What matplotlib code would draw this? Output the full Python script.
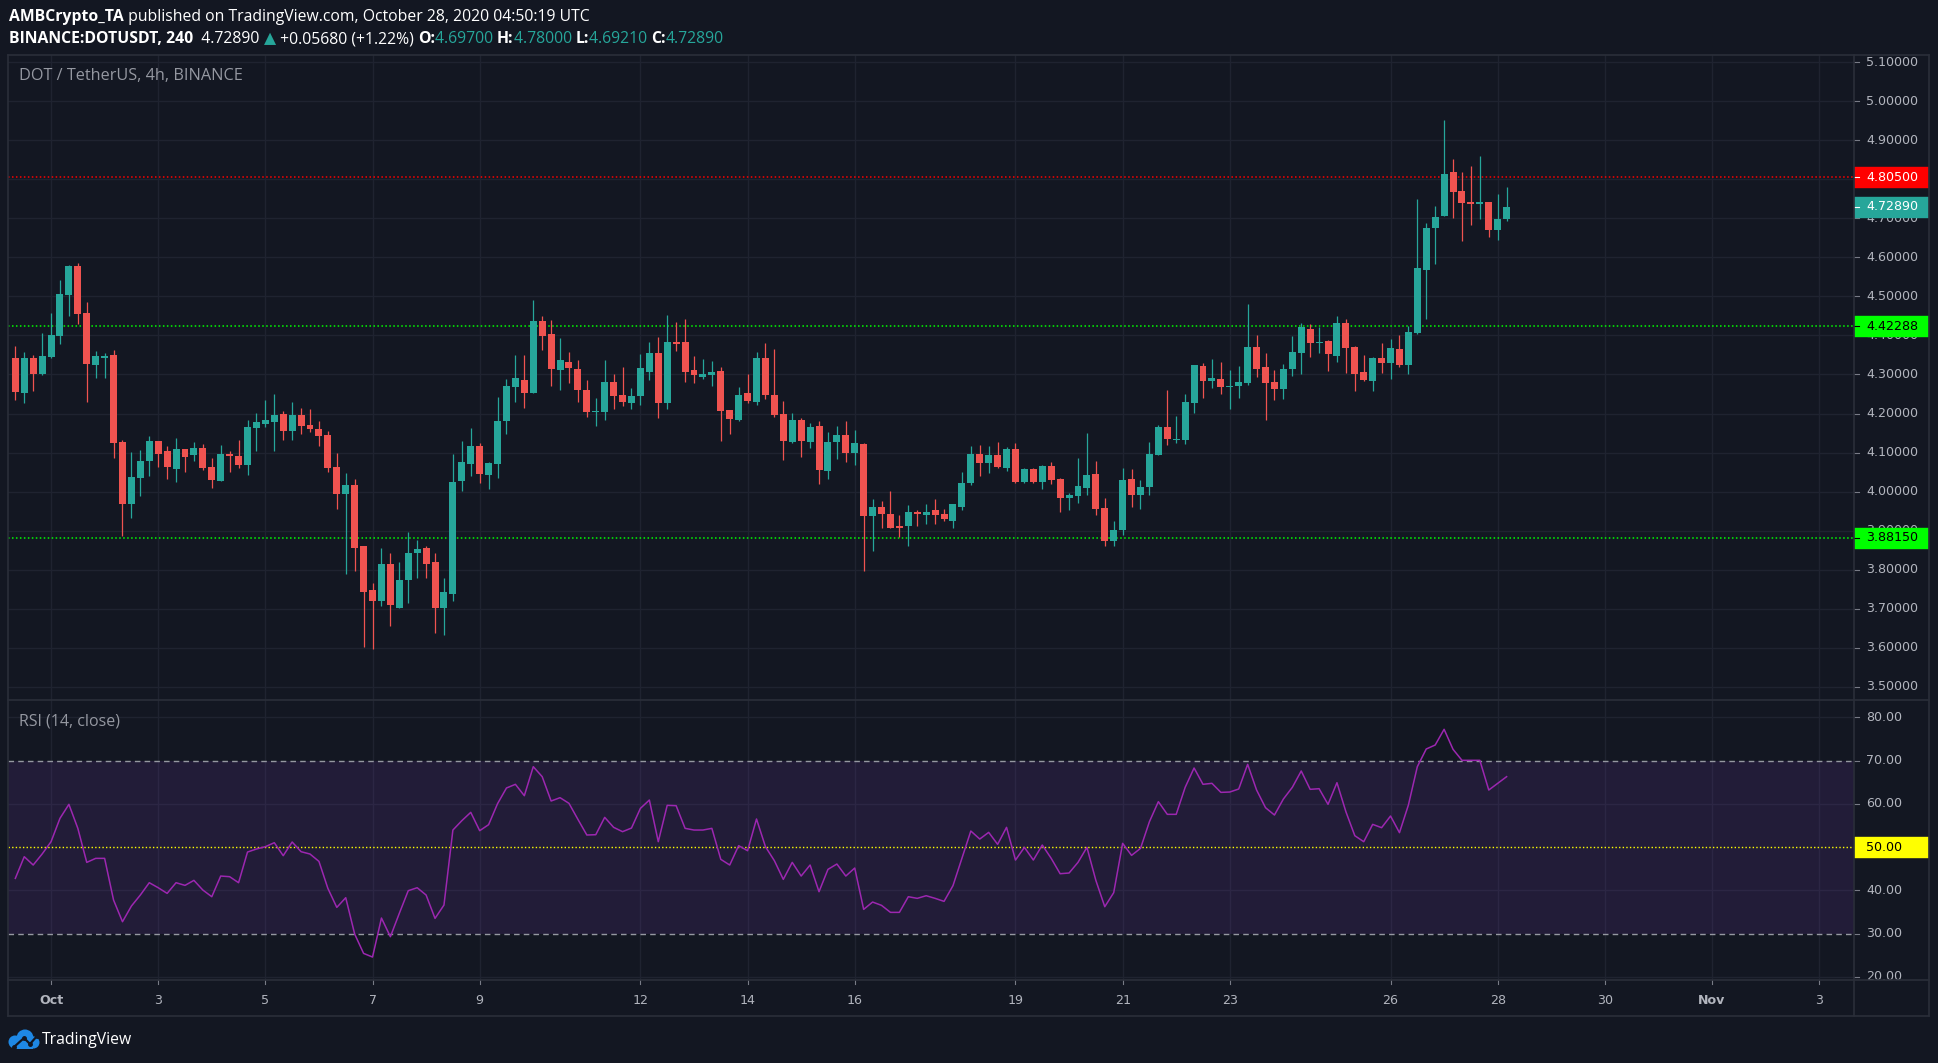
import matplotlib
matplotlib.use('Agg')
import matplotlib.pyplot as plt
from matplotlib.patches import Rectangle, Circle
import numpy as np

W, H = 1938, 1063
BG = '#131722'
GRID = '#1f2330'
BORDER = '#2a2e39'
UP = '#26a69a'
DN = '#ef5350'
AXT = '#b2b5be'

# ---------------- data (4h candles, first = Sep 30 08:00 UTC) ----------------
opens = [4.342, 4.253, 4.342, 4.302, 4.344, 4.398, 4.503, 4.578, 4.457, 4.325,
         4.342, 4.350, 4.127, 3.968, 4.034, 4.078, 4.129, 4.103, 4.057, 4.108,
         4.093, 4.111, 4.062, 4.027, 4.096, 4.091, 4.067, 4.162, 4.173, 4.178,
         4.198, 4.155, 4.196, 4.170, 4.160, 4.144, 4.062, 3.993, 4.016, 3.860,
         3.747, 3.719, 3.816, 3.703, 3.775, 3.842, 3.855, 3.819, 3.703, 3.739,
         4.027, 4.070, 4.116, 4.042, 4.070, 4.180, 4.267, 4.285, 4.252, 4.437,
         4.403, 4.311, 4.332, 4.314, 4.260, 4.203, 4.203, 4.280, 4.247, 4.226,
         4.244, 4.306, 4.355, 4.226, 4.383, 4.383, 4.311, 4.293, 4.298, 4.309,
         4.208, 4.183, 4.252, 4.229, 4.342, 4.247, 4.198, 4.127, 4.183, 4.127,
         4.167, 4.052, 4.127, 4.144, 4.098, 4.121, 3.937, 3.962, 3.942, 3.910,
         3.911, 3.949, 3.939, 3.952, 3.942, 3.926, 3.962, 4.021, 4.096, 4.073,
         4.093, 4.060, 4.108, 4.024, 4.057, 4.024, 4.065, 4.032, 3.983, 3.988,
         4.009, 4.044, 3.957, 3.873, 3.901, 4.032, 3.991, 4.011, 4.093, 4.165,
         4.132, 4.132, 4.226, 4.321, 4.283, 4.288, 4.267, 4.270, 4.278, 4.370,
         4.319, 4.280, 4.262, 4.314, 4.355, 4.416, 4.380, 4.385, 4.347, 4.432,
         4.370, 4.306, 4.283, 4.342, 4.329, 4.365, 4.324, 4.406, 4.567, 4.675,
         4.706, 4.819, 4.770, 4.742, 4.737, 4.742, 4.670, 4.697]
highs = [4.373, 4.357, 4.350, 4.406, 4.457, 4.542, 4.580, 4.585, 4.485, 4.360,
         4.355, 4.362, 4.132, 4.101, 4.106, 4.142, 4.130, 4.116, 4.137, 4.109,
         4.127, 4.121, 4.085, 4.119, 4.103, 4.132, 4.183, 4.201, 4.234, 4.250,
         4.206, 4.229, 4.214, 4.211, 4.180, 4.155, 4.098, 4.047, 4.032, 3.860,
         3.767, 3.857, 3.842, 3.821, 3.896, 3.875, 3.862, 3.842, 3.778, 4.096,
         4.129, 4.162, 4.124, 4.075, 4.242, 4.288, 4.350, 4.350, 4.491, 4.450,
         4.439, 4.393, 4.357, 4.337, 4.285, 4.239, 4.337, 4.301, 4.319, 4.265,
         4.352, 4.383, 4.396, 4.452, 4.434, 4.442, 4.347, 4.339, 4.334, 4.319,
         4.209, 4.267, 4.301, 4.357, 4.380, 4.364, 4.232, 4.201, 4.188, 4.175,
         4.180, 4.152, 4.167, 4.180, 4.157, 4.124, 3.980, 3.975, 4.001, 3.939,
         3.965, 3.952, 3.968, 3.980, 3.955, 3.968, 4.050, 4.116, 4.119, 4.116,
         4.127, 4.114, 4.124, 4.060, 4.060, 4.067, 4.075, 4.034, 3.996, 4.085,
         4.150, 4.078, 3.983, 3.926, 4.060, 4.057, 4.029, 4.127, 4.170, 4.260,
         4.193, 4.250, 4.324, 4.329, 4.339, 4.332, 4.311, 4.321, 4.480, 4.401,
         4.355, 4.311, 4.326, 4.398, 4.432, 4.429, 4.421, 4.388, 4.450, 4.442,
         4.373, 4.350, 4.344, 4.380, 4.391, 4.401, 4.424, 4.750, 4.688, 4.732,
         4.952, 4.852, 4.819, 4.834, 4.860, 4.742, 4.762, 4.780]
lows = [4.234, 4.227, 4.258, 4.298, 4.342, 4.378, 4.450, 4.430, 4.230, 4.291,
        4.291, 4.086, 3.886, 3.932, 3.988, 4.039, 4.062, 4.032, 4.024, 4.050,
        4.078, 4.055, 4.009, 4.027, 4.050, 4.060, 4.042, 4.103, 4.165, 4.103,
        4.132, 4.132, 4.147, 4.152, 4.116, 4.050, 3.955, 3.788, 3.798, 3.603,
        3.598, 3.706, 3.657, 3.703, 3.716, 3.780, 3.780, 3.639, 3.632, 3.721,
        4.001, 4.039, 4.021, 4.006, 4.034, 4.147, 4.229, 4.214, 4.252, 4.362,
        4.270, 4.260, 4.278, 4.229, 4.191, 4.167, 4.183, 4.211, 4.219, 4.211,
        4.221, 4.285, 4.188, 4.211, 4.360, 4.280, 4.278, 4.288, 4.270, 4.129,
        4.147, 4.180, 4.226, 4.221, 4.237, 4.191, 4.080, 4.124, 4.088, 4.111,
        4.019, 4.032, 4.083, 4.075, 4.067, 3.798, 3.847, 3.908, 3.908, 3.885,
        3.860, 3.911, 3.916, 3.916, 3.926, 3.906, 3.952, 4.016, 4.039, 4.047,
        4.060, 4.052, 4.021, 4.021, 4.021, 4.006, 4.019, 3.947, 3.952, 3.970,
        3.991, 3.939, 3.862, 3.862, 3.888, 3.960, 3.955, 3.991, 4.093, 4.119,
        4.124, 4.121, 4.201, 4.239, 4.265, 4.250, 4.211, 4.239, 4.272, 4.293,
        4.183, 4.234, 4.237, 4.296, 4.301, 4.344, 4.355, 4.309, 4.332, 4.303,
        4.257, 4.283, 4.257, 4.303, 4.288, 4.319, 4.301, 4.403, 4.442, 4.583,
        4.706, 4.701, 4.642, 4.683, 4.698, 4.652, 4.644, 4.6921]
closes = [4.256, 4.342, 4.302, 4.347, 4.401, 4.506, 4.578, 4.455, 4.327, 4.347,
          4.347, 4.125, 3.968, 4.037, 4.078, 4.129, 4.096, 4.062, 4.108, 4.088,
          4.111, 4.060, 4.029, 4.096, 4.091, 4.067, 4.165, 4.178, 4.183, 4.196,
          4.155, 4.196, 4.167, 4.160, 4.142, 4.060, 3.993, 4.016, 3.857, 3.744,
          3.719, 3.816, 3.709, 3.775, 3.844, 3.852, 3.816, 3.703, 3.742, 4.024,
          4.075, 4.116, 4.044, 4.073, 4.180, 4.270, 4.291, 4.252, 4.437, 4.398,
          4.314, 4.337, 4.316, 4.260, 4.203, 4.205, 4.280, 4.244, 4.229, 4.244,
          4.316, 4.355, 4.226, 4.383, 4.378, 4.306, 4.298, 4.301, 4.306, 4.206,
          4.185, 4.247, 4.232, 4.342, 4.247, 4.196, 4.129, 4.183, 4.129, 4.165,
          4.055, 4.127, 4.144, 4.098, 4.124, 3.937, 3.960, 3.942, 3.908, 3.908,
          3.949, 3.942, 3.949, 3.939, 3.929, 3.968, 4.021, 4.096, 4.073, 4.093,
          4.062, 4.108, 4.024, 4.057, 4.024, 4.065, 4.029, 3.983, 3.991, 4.014,
          4.042, 3.955, 3.873, 3.903, 4.029, 3.991, 4.011, 4.096, 4.165, 4.134,
          4.134, 4.229, 4.324, 4.283, 4.291, 4.267, 4.270, 4.280, 4.370, 4.314,
          4.278, 4.262, 4.314, 4.357, 4.421, 4.380, 4.383, 4.352, 4.432, 4.368,
          4.301, 4.285, 4.342, 4.329, 4.368, 4.324, 4.409, 4.573, 4.675, 4.703,
          4.814, 4.768, 4.739, 4.737, 4.742, 4.670, 4.698, 4.7289]
rsi = [42.75, 47.76, 45.84, 48.38, 51.23, 56.63, 59.87, 54.32, 46.45, 47.38,
       47.38, 37.74, 32.73, 36.35, 38.90, 41.75, 40.59, 39.28, 41.75, 41.13,
       42.29, 40.05, 38.51, 43.29, 43.14, 41.75, 48.84, 49.54, 50.08, 51.00,
       48.00, 51.16, 48.92, 48.38, 46.68, 40.44, 36.04, 38.28, 29.88, 25.40,
       24.56, 33.58, 29.26, 34.66, 39.90, 40.59, 38.90, 33.50, 36.58, 53.93,
       56.09, 58.02, 53.78, 55.17, 60.02, 63.65, 64.50, 61.87, 68.58, 66.27,
       60.64, 61.41, 60.10, 56.40, 52.78, 52.85, 56.86, 54.55, 53.55, 54.39,
       58.94, 60.87, 51.23, 59.64, 59.56, 54.32, 53.93, 53.93, 54.32, 47.15,
       45.84, 50.31, 49.15, 56.48, 50.08, 46.84, 42.52, 46.45, 43.29, 45.84,
       39.67, 44.83, 46.07, 43.29, 45.14, 35.58, 37.28, 36.51, 34.89, 34.89,
       38.51, 38.13, 38.74, 38.13, 37.43, 41.06, 47.38, 53.70, 51.85, 53.39,
       50.62, 54.55, 46.99, 49.92, 46.99, 50.46, 47.38, 43.83, 43.99, 46.45,
       49.92, 42.29, 36.20, 39.44, 50.85, 48.07, 49.69, 55.86, 60.49, 57.56,
       57.56, 63.80, 68.27, 64.50, 64.73, 62.64, 62.72, 63.42, 69.12, 63.18,
       59.10, 57.40, 61.10, 63.80, 67.58, 63.34, 63.49, 59.87, 64.88, 58.17,
       52.62, 51.23, 55.24, 54.47, 57.17, 53.32, 59.71, 68.58, 72.67, 73.59,
       77.22, 72.59, 70.05, 70.05, 70.05, 63.18, 64.73, 66.27]

time_labels = ['Oct', '3', '5', '7', '9', '12', '14', '16', '19', '21', '23',
               '26', '28', '30', 'Nov', '3']
time_label_day = [1, 3, 5, 7, 9, 12, 14, 16, 19, 21, 23, 26, 28, 30, 32, 34]  # day of Oct (Nov 1 = 32)
price_ticks = [3.5, 3.6, 3.7, 3.8, 3.9, 4.0, 4.1, 4.2, 4.3, 4.4, 4.5, 4.6,
               4.7, 4.8, 4.9, 5.0, 5.1]
rsi_ticks = [20, 30, 40, 50, 60, 70, 80]
resistance = 4.805
supports = [4.42288, 3.8815]
last_price = 4.7289

# ---------------- layout helpers ----------------
XMIN, XMAX = -0.82, 205.9
PMIN, PMAX = 3.4666, 5.118
RMIN, RMAX = 19.25, 84.0
FONT = ['Open Sans', 'DejaVu Sans']
AXFONT = ['DejaVu Sans']
AXSIZE = 9.1

fig = plt.figure(figsize=(W / 100, H / 100), dpi=100, facecolor=BG)


def px_axes(x0, y0, x1, y1, z=1):
    a = fig.add_axes([x0 / W, 1 - y1 / H, (x1 - x0) / W, (y1 - y0) / H], zorder=z)
    a.set_axis_off()
    return a


def ftext(x, y, s, **kw):
    return fig.text(x / W, 1 - y / H, s, **kw)


def day_to_idx(d):
    return 4 + (d - 1) * 6


time_idx = [day_to_idx(d) for d in time_label_day]
n = len(closes)
xs = np.arange(n)

# ---------------- main price pane ----------------
ax = px_axes(8, 55, 1854, 700)
ax.set_xlim(XMIN, XMAX)
ax.set_ylim(PMIN, PMAX)
for p in price_ticks:
    ax.axhline(p, color=GRID, lw=1, zorder=0)
for t in time_idx:
    ax.axvline(t, color=GRID, lw=1, zorder=0)

o = np.array(opens); c = np.array(closes); hi = np.array(highs); lo = np.array(lows)
cols = [UP if cc >= oo else DN for oo, cc in zip(o, c)]
ax.vlines(xs, lo, hi, colors=cols, lw=0.9, zorder=2)
bh = np.maximum(np.abs(c - o), 0.003)
ax.bar(xs, bh, bottom=np.minimum(o, c), width=0.78, color=cols, zorder=3,
       linewidth=0)

ax.axhline(resistance, color='#ff0000', lw=1.1, ls=(0, (1, 1.6)), zorder=1)
for s in supports:
    ax.axhline(s, color='#00ff00', lw=1.1, ls=(0, (1, 1.6)), zorder=1)

# ---------------- price axis ----------------
axp = px_axes(1854, 55, 1929, 700)
axp.set_xlim(0, 75)
axp.set_ylim(PMIN, PMAX)
for p in price_ticks:
    axp.plot([0, 5], [p, p], color='#787b86', lw=0.8)
    axp.text(12, p, '%.5f' % p, va='center', ha='left', color=AXT,
             fontsize=AXSIZE, family=AXFONT, clip_on=True)
hh = 20 / 390.6
for val, fc, tc in [(resistance, '#ff0000', 'white'), (last_price, UP, 'white'),
                    (supports[0], '#00ff00', 'black'), (supports[1], '#00ff00', 'black')]:
    axp.add_patch(Rectangle((0, val - hh / 2), 75, hh, color=fc, zorder=5))
    axp.plot([0, 5], [val, val], color=tc, lw=0.8, zorder=6)
    axp.text(12, val, '%.5f' % val, va='center', ha='left', color=tc,
             fontsize=AXSIZE, family=AXFONT, zorder=7)

# ---------------- RSI pane ----------------
axr = px_axes(8, 700, 1854, 980)
axr.set_xlim(XMIN, XMAX)
axr.set_ylim(RMIN, RMAX)
for r in [20, 40, 60, 80]:
    axr.axhline(r, color=GRID, lw=1, zorder=0)
for t in time_idx:
    axr.axvline(t, color=GRID, lw=1, zorder=0)
axr.axhspan(30, 70, color='#7e3fc2', alpha=0.14, lw=0, zorder=1)
axr.axhline(70, color='#9598a1', lw=1.0, ls=(0, (4, 3)), zorder=2)
axr.axhline(30, color='#9598a1', lw=1.0, ls=(0, (4, 3)), zorder=2)
axr.axhline(50, color='#ffff00', lw=1.0, ls=(0, (1, 1.6)), zorder=2)
axr.plot(xs, rsi, color='#9c27b0', lw=1.1, zorder=3)

axra = px_axes(1854, 700, 1929, 980)
axra.set_xlim(0, 75)
axra.set_ylim(RMIN, RMAX)
for r in rsi_ticks:
    if r == 50:
        continue
    axra.plot([0, 5], [r, r], color='#787b86', lw=0.8)
    axra.text(12, r, '%.2f' % r, va='center', ha='left', color=AXT,
              fontsize=AXSIZE, family=AXFONT, clip_on=True)
rh = 20 / 4.325
axra.add_patch(Rectangle((0, 50 - rh / 2), 75, rh, color='#ffff00', zorder=5))
axra.text(12, 50, '50.00', va='center', ha='left', color='black',
          fontsize=AXSIZE, family=AXFONT, zorder=7)

# ---------------- time axis ----------------
axt = px_axes(8, 980, 1854, 1016)
axt.set_xlim(XMIN, XMAX)
axt.set_ylim(0, 1)
for t, lab in zip(time_idx, time_labels):
    axt.plot([t, t], [0.9, 1.0], color='#787b86', lw=0.8)
    axt.text(t, 0.44, lab, ha='center', va='center', color=AXT, fontsize=AXSIZE,
             family=AXFONT, fontweight='bold' if lab in ('Oct', 'Nov') else 'normal')

# ---------------- borders ----------------
axb = px_axes(0, 0, W, H, z=10)
axb.set_xlim(0, W)
axb.set_ylim(H, 0)
bl = dict(color=BORDER, lw=1.2)
axb.plot([8, 1929], [55, 55], **bl)
axb.plot([8, 1929], [700, 700], **bl)
axb.plot([8, 1929], [980, 980], **bl)
axb.plot([8, 1929], [1016, 1016], **bl)
axb.plot([8, 8], [55, 1016], **bl)
axb.plot([1854, 1854], [55, 1016], **bl)
axb.plot([1929, 1929], [55, 1016], **bl)

# TradingView logo (cloud)
LOGO = '#1e88e5'
for cx, cy, rr in [(15, 1042, 6.5), (25, 1038, 8.5), (33.5, 1042.5, 6)]:
    axb.add_patch(Circle((cx, cy), rr, color=LOGO, zorder=3, lw=0))
axb.add_patch(Rectangle((15, 1041), 18.5, 7.5, color=LOGO, zorder=3, lw=0))
axb.plot([14, 24, 30, 37], [1047, 1038, 1044, 1036], color=BG, lw=1.6, zorder=4,
         marker='o', markersize=2.5)
ftext(42, 1040, 'TradingView', color='white', fontsize=11.3, family=FONT,
      va='center', ha='left')

# ---------------- texts ----------------
ftext(19, 76, 'DOT / TetherUS, 4h, BINANCE', color='#9598a1', fontsize=11.7,
      family=FONT, va='center', ha='left')
ftext(19, 722, 'RSI (14, close)', color='#9598a1', fontsize=11.5,
      family=FONT, va='center', ha='left')

renderer = fig.canvas.get_renderer()


def seq(x, y, pieces, size=11.3):
    for s, col, wt in pieces:
        t = ftext(x, y, s, color=col, fontsize=size, family=FONT,
                  fontweight=wt, va='center', ha='left')
        bb = t.get_window_extent(renderer)
        x += bb.width


WHITE = '#ffffff'
seq(9, 17, [('AMBCrypto_TA', WHITE, 'bold'),
            (' published on TradingView.com, October 28, 2020 04:50:19 UTC', WHITE, 'normal')])
seq(9, 39, [('BINANCE:DOTUSDT, 240', WHITE, 'bold'),
            ('  4.72890 ', WHITE, 'normal'),
            ('\u25b2', UP, 'normal'),
            (' +0.05680 (+1.22%) ', WHITE, 'normal'),
            ('O:', WHITE, 'bold'), ('4.69700 ', UP, 'normal'),
            ('H:', WHITE, 'bold'), ('4.78000 ', UP, 'normal'),
            ('L:', WHITE, 'bold'), ('4.69210 ', UP, 'normal'),
            ('C:', WHITE, 'bold'), ('4.72890', UP, 'normal')])

fig.savefig('out.png', dpi=100, facecolor=BG)
